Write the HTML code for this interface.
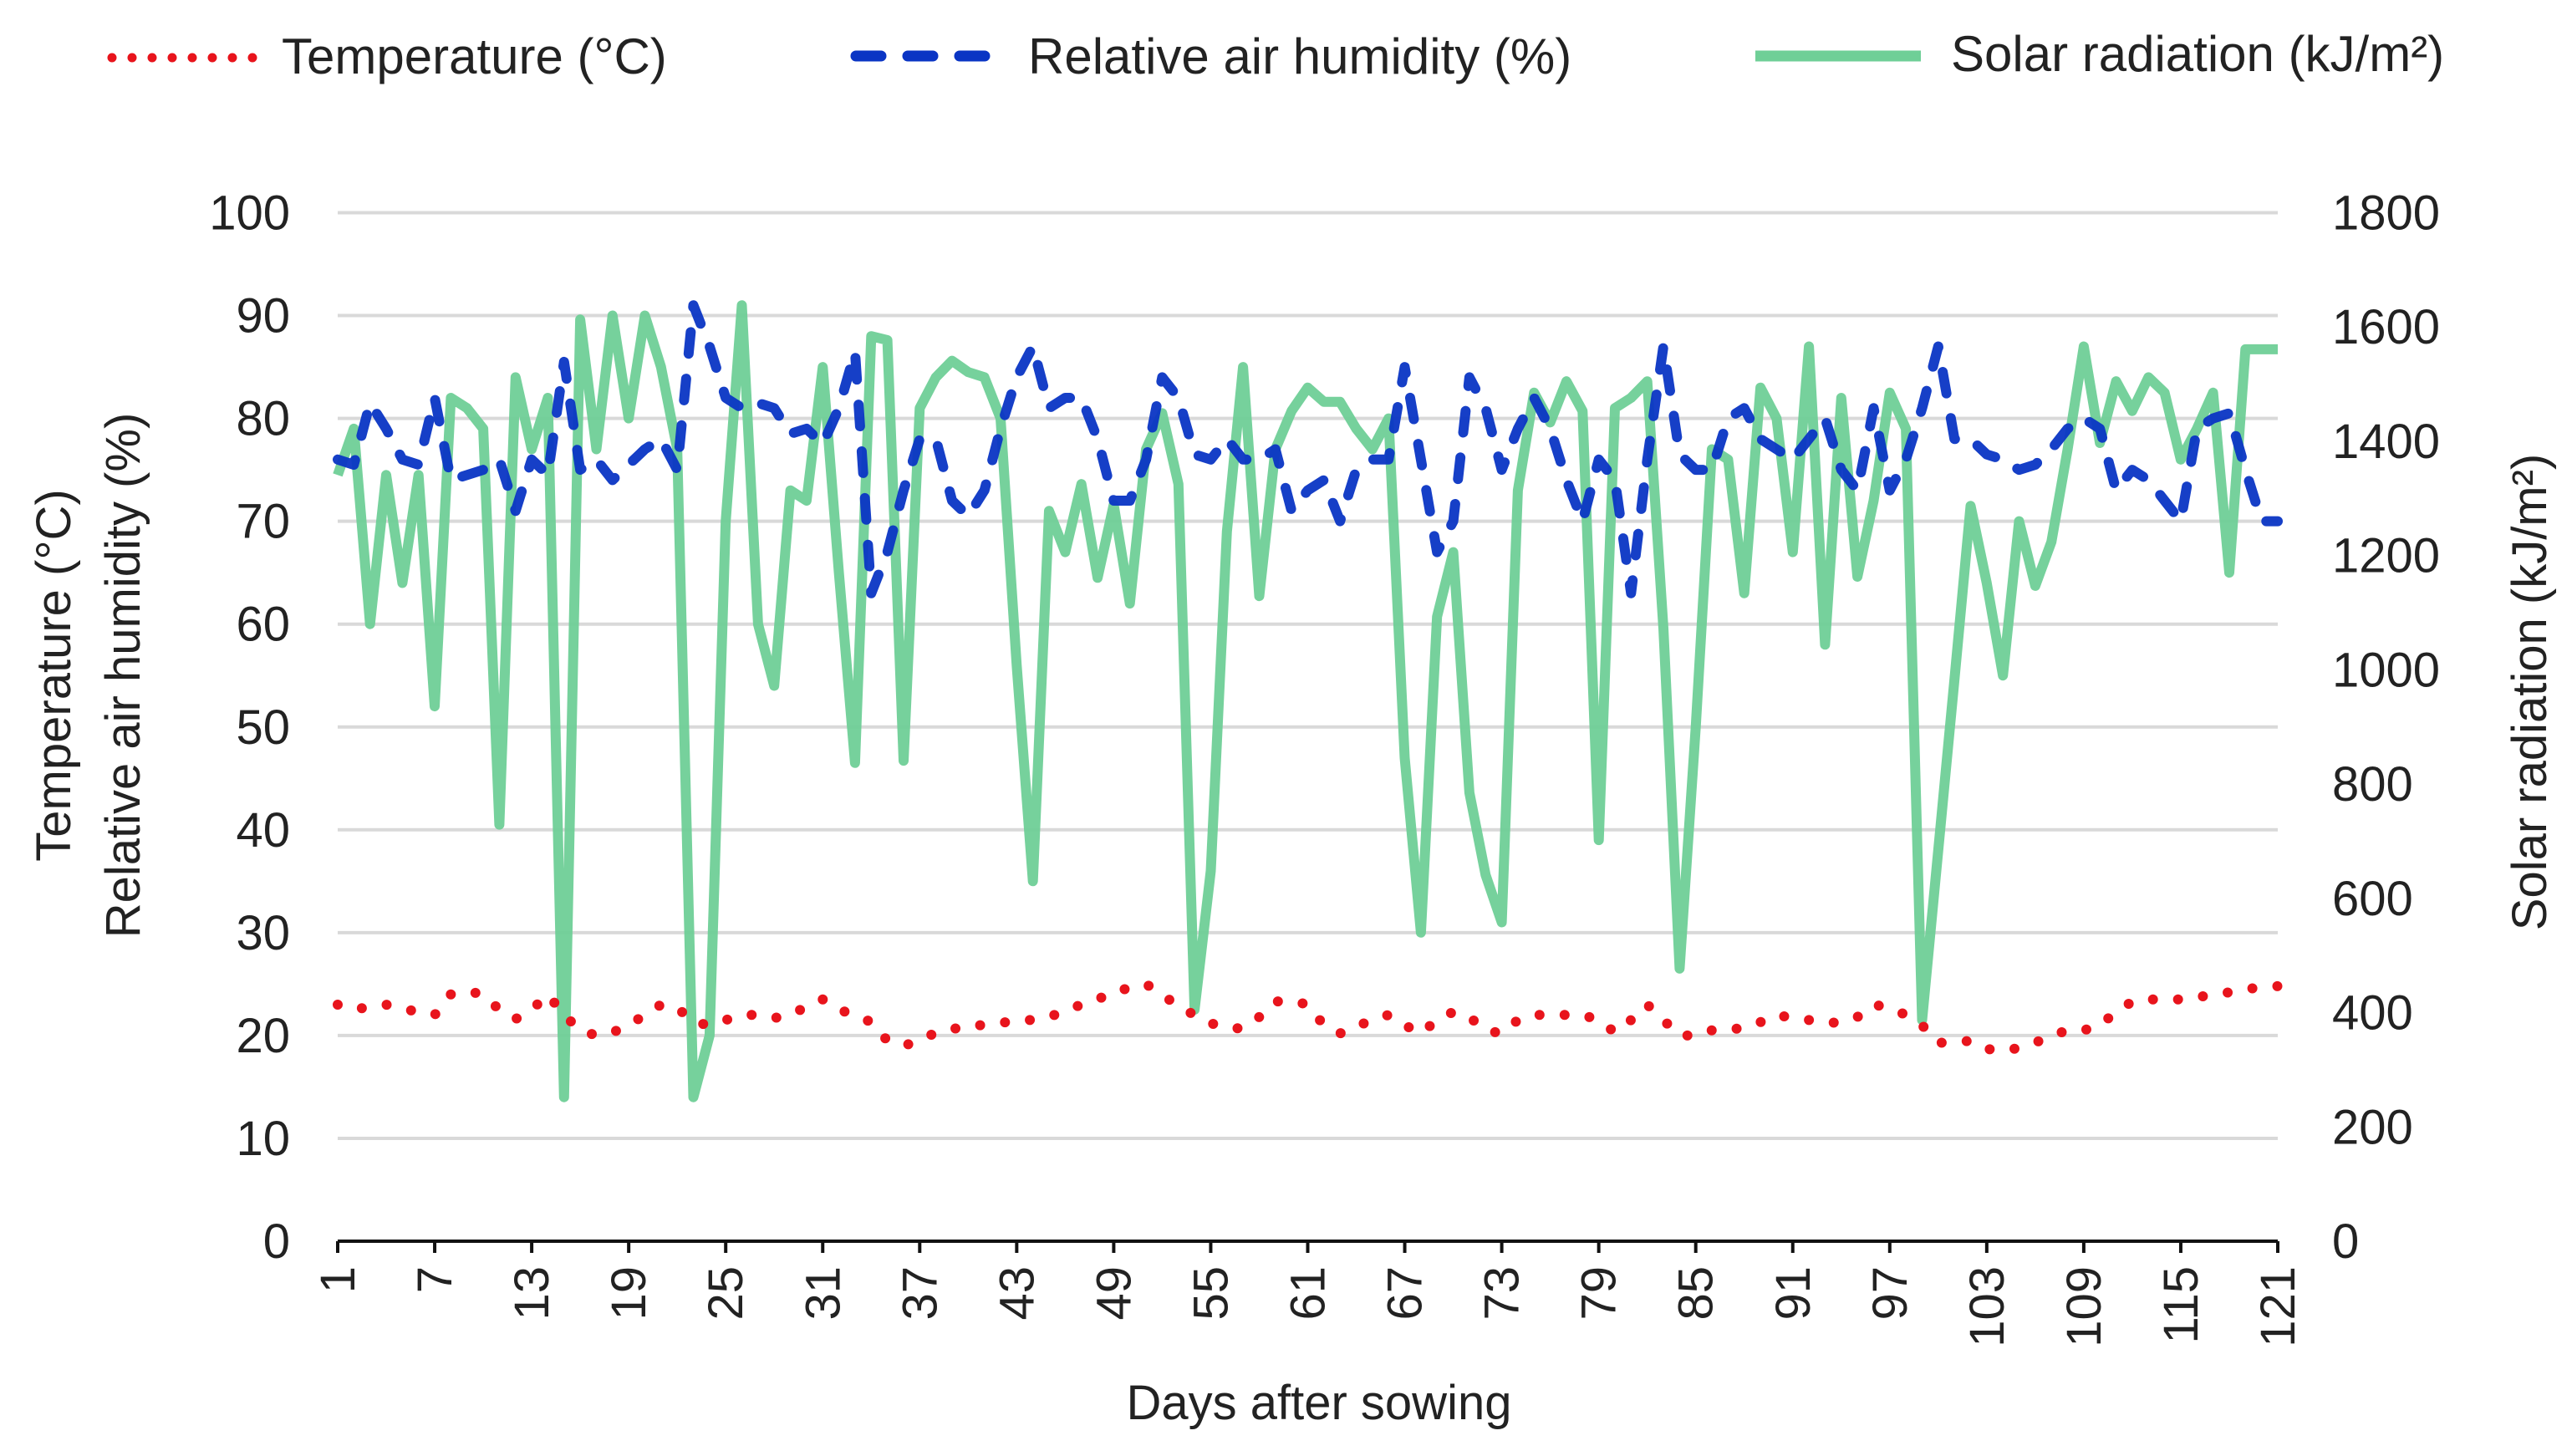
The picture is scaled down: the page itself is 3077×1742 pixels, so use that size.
<!DOCTYPE html>
<html><head><meta charset="utf-8"><style>
html,body{margin:0;padding:0;background:#fff;}
svg{display:block;font-family:"Liberation Sans",Arial,sans-serif;}
</style></head><body>
<svg id="chart" width="3077" height="1742" viewBox="0 0 3077 1742" xmlns="http://www.w3.org/2000/svg">
<g id="legend">
 <g>
  <line x1="134" y1="69" x2="306" y2="69" stroke="#e8141c" stroke-width="11" stroke-linecap="round" stroke-dasharray="0 24"/>
  <text x="337" y="88" font-size="60" fill="#222">Temperature (°C)</text>
 </g>
 <g>
  <line x1="1024" y1="67" x2="1190" y2="67" stroke="#0a35c4" stroke-width="13" stroke-linecap="round" stroke-dasharray="30 32"/>
  <text x="1230" y="88" font-size="60" fill="#222">Relative air humidity (%)</text>
 </g>
 <g>
  <line x1="2100" y1="67" x2="2298" y2="67" stroke="#6fcf97" stroke-width="13"/>
  <text x="2334" y="85" font-size="60" fill="#222">Solar radiation (kJ/m²)</text>
 </g>
</g>
<g id="grid"></g>
<g id="series"></g>
<g id="axes"></g>
<text x="1578" y="1698" font-size="58" text-anchor="middle" fill="#222">Days after sowing</text>
<text transform="translate(84,808) rotate(-90)" font-size="58" text-anchor="middle" fill="#222">Temperature (°C)</text>
<text transform="translate(167,808) rotate(-90)" font-size="58" text-anchor="middle" fill="#222">Relative air humidity (%)</text>
<text transform="translate(3046,828) rotate(-90)" font-size="58" text-anchor="middle" fill="#222">Solar radiation (kJ/m²)</text>
</svg>
<script>
const leftTicks=[0,10,20,30,40,50,60,70,80,90,100];
const rightTicks=[0,200,400,600,800,1000,1200,1400,1600,1800];
const xTickDays=[1,7,13,19,25,31,37,43,49,55,61,67,73,79,85,91,97,103,109,115,121];
const temperature=[23,22.5,22.8,23,22.6,22.3,22,24,24.3,24,22.5,21.6,22.5,24,22,20.5,20,20.3,21,22,23,22.7,21.3,21,21.5,22,22,21.7,22,22.8,23.5,22.5,22,21.3,19.5,19,19.5,20.3,20.6,21,21,21.2,21.5,21.5,21.8,22.4,23,23.5,24.3,24.6,25,24,22.8,22,21.2,20.7,20.7,21.8,23.3,23.4,23,21,20.2,20.8,21.6,22,21,20.2,21.5,22.3,21.8,20.5,20.2,21.5,22,22,22,22,21.5,20.3,21.5,23,21.5,20,20,20.5,20.5,20.8,21.3,22,21.7,21.5,21.2,21.3,21.8,23,22.7,22,21,19.3,19.3,19.5,18.7,18.5,18.8,19.3,20,20.5,20.5,21,22.3,23.3,23.5,23.5,23.5,23.7,24,24.2,24.5,24.7,24.8];
const humidity=[76,75.5,81.5,79,76,75.5,82,74,74.5,75,76,71,76,74.5,85.5,75,76,74,75.5,77,78,75,91,87,82,81,81.5,81,78.5,79,77.5,81,86.5,63,67,73,78,78,72,70.5,73,79,84,87,81,82,82,78,72,72,76,84,82,76.5,76,78,76,76,77,71,73,74,70,75,76,76,85,76,67,70,84,81,75,79,82,79,74,70,76,74,63,76,87,76.5,75,75,80,81,78,77,76,78,80,75,73,81,73,76,81,87,78,78,76.5,76,75,75.5,77,79,80,79,73,75,74,72,70,79,80,80.5,75,70,70];
const solar=[1341,1422,1080,1341,1152,1341,936,1476,1458,1422,729,1512,1386,1476,252,1613,1386,1620,1440,1620,1530,1386,252,360,1260,1638,1080,972,1314,1296,1530,1170,837,1584,1577,841,1458,1512,1541,1521,1512,1440,1008,630,1278,1206,1325,1161,1289,1116,1386,1449,1325,405,648,1242,1530,1129,1386,1453,1494,1469,1469,1422,1386,1440,846,540,1093,1206,785,641,558,1314,1485,1433,1505,1453,702,1458,1476,1505,1073,477,900,1386,1368,1134,1494,1440,1206,1566,1044,1476,1163,1296,1485,1422,387,684,983,1287,1152,990,1260,1147,1224,1386,1566,1397,1505,1453,1512,1485,1368,1422,1485,1170,1561,1561,1561];

const NS='http://www.w3.org/2000/svg';
const X0=404,X1=2725,Y0=1485,Y100=254.5;
function xs(d){return X0+(d-1)*(X1-X0)/120;}
function yl(v){return Y0-v*(Y0-Y100)/100;}
function yr(v){return Y0-v*(Y0-Y100)/1800;}
function mk(tag,attrs,parent){const e=document.createElementNS(NS,tag);for(const k in attrs)e.setAttribute(k,attrs[k]);parent.appendChild(e);return e;}
const grid=document.getElementById('grid'),axes=document.getElementById('axes'),series=document.getElementById('series');
leftTicks.forEach(v=>{
 if(v>0){const g=mk('line',{x1:X0,x2:X1,y1:yl(v),y2:yl(v),stroke:'#d9d9d9','stroke-width':4},grid);
 
 }
 const t=mk('text',{x:347,y:yl(v)+20,'font-size':58,'text-anchor':'end',fill:'#222'},axes);
 t.textContent=v;
 
 
});
rightTicks.forEach(v=>{
 const t=mk('text',{x:2790,y:yr(v)+20,'font-size':58,'text-anchor':'start',fill:'#222'},axes);
 t.textContent=v;
 
 
});
const ax=mk('line',{x1:X0,x2:X1,y1:Y0,y2:Y0,stroke:'#111','stroke-width':4},axes);


xTickDays.forEach(d=>{
 const tk=mk('line',{x1:xs(d),x2:xs(d),y1:Y0,y2:Y0+14,stroke:'#111','stroke-width':4},axes);
 
 
 const t=mk('text',{transform:'translate('+(xs(d)+20)+','+(Y0+30)+') rotate(-90)','font-size':58,'text-anchor':'end',fill:'#222'},axes);
 t.textContent=d;
 
 
});
function pts(arr,f){return arr.map((v,i)=>xs(i+1).toFixed(1)+','+f(v).toFixed(1)).join(' ');}
const s=mk('polyline',{points:pts(solar,yr),fill:'none',stroke:'#6fcf97','stroke-width':12,'stroke-linejoin':'round','stroke-opacity':0.95},series);


const h=mk('polyline',{points:pts(humidity,yl),fill:'none',stroke:'#0a35c4','stroke-width':12,'stroke-linecap':'round','stroke-linejoin':'round','stroke-dasharray':'26 30','stroke-opacity':0.95},series);


const tl=mk('polyline',{points:pts(temperature,yl),fill:'none',stroke:'#e8141c','stroke-width':12,'stroke-linecap':'round','stroke-dasharray':'0 30'},series);


</script>
</body></html>
